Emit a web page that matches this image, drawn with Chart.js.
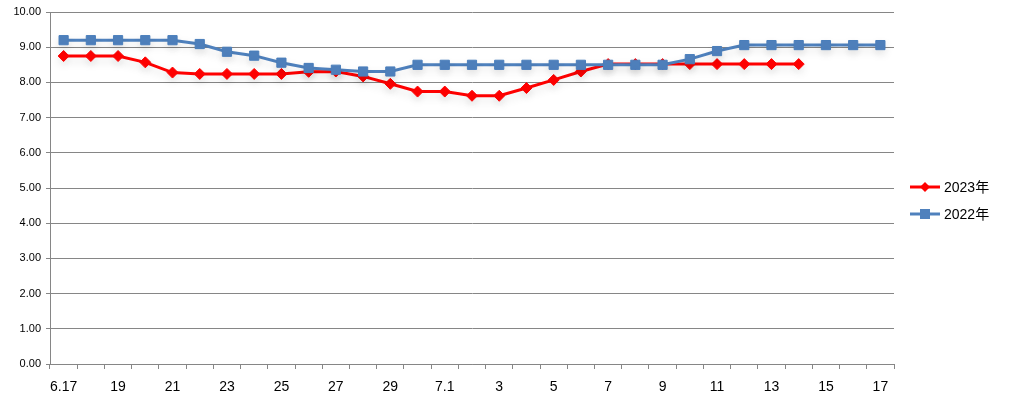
<!DOCTYPE html>
<html>
<head>
<meta charset="utf-8">
<script src="https://cdn.jsdelivr.net/npm/chart.js@4/dist/chart.umd.min.js"></script>
<style>
  html, body { margin: 0; padding: 0; background: #fff; }
  #wrap { width: 1009px; height: 404px; }
</style>
</head>
<body>
<div id="wrap"><canvas id="chart" width="1009" height="404"></canvas></div>
<script>
const dates = [
  '6.17', '18', '19', '20', '21', '22', '23', '24', '25', '26', '27', '28', '29', '30',
  '7.1', '2', '3', '4', '5', '6', '7', '8', '9', '10', '11', '12', '13', '14', '15', '16', '17'
];

const values2023 = [
  8.75, 8.75, 8.75, 8.57, 8.28, 8.24, 8.24, 8.24, 8.24, 8.30, 8.31, 8.17, 7.96, 7.74,
  7.74, 7.62, 7.62, 7.84, 8.07, 8.31, 8.52, 8.52, 8.52, 8.52, 8.52, 8.52, 8.52, 8.52, null, null, null
];

const values2022 = [
  9.20, 9.20, 9.20, 9.20, 9.20, 9.09, 8.87, 8.76, 8.56, 8.41, 8.36, 8.31, 8.31, 8.50,
  8.50, 8.50, 8.50, 8.50, 8.50, 8.50, 8.50, 8.50, 8.50, 8.66, 8.89, 9.06, 9.06, 9.06, 9.06, 9.06, 9.06
];

const seriesNames = ['2023年', '2022年'];

const fontFamily = '"Liberation Sans", "Noto Sans CJK SC", sans-serif';
const axisGray = '#868686';

// soft shadow under the lines, like the office chart
const lineShadow = {
  id: 'lineShadow',
  beforeDatasetsDraw(chart) {
    const ctx = chart.ctx;
    ctx.save();
    ctx.shadowColor = 'rgba(0, 0, 0, 0.12)';
    ctx.shadowBlur = 10;
    ctx.shadowOffsetY = 4;
  },
  afterDatasetsDraw(chart) {
    chart.ctx.restore();
  },
};

// legend with a line sample and marker, drawn to the right of the plot
const lineLegend = {
  id: 'lineLegend',
  afterDraw(chart) {
    const ctx = chart.ctx;
    chart.data.datasets.forEach((ds, i) => {
      const y = 187 + i * 27;
      ctx.save();
      ctx.strokeStyle = ds.borderColor;
      ctx.lineWidth = 3;
      ctx.beginPath();
      ctx.moveTo(910, y);
      ctx.lineTo(940, y);
      ctx.stroke();
      ctx.fillStyle = ds.pointBackgroundColor;
      ctx.beginPath();
      if (ds.pointStyle === 'rectRot') {
        ctx.moveTo(925, y - 5);
        ctx.lineTo(930, y);
        ctx.lineTo(925, y + 5);
        ctx.lineTo(920, y);
        ctx.closePath();
      } else {
        ctx.rect(920, y - 5, 10, 10);
      }
      ctx.fill();
      ctx.fillStyle = '#000';
      ctx.font = '14px ' + fontFamily;
      ctx.textBaseline = 'middle';
      ctx.textAlign = 'left';
      ctx.fillText(ds.label, 944, y + 1);
      ctx.restore();
    });
  },
};

new Chart(document.getElementById('chart'), {
  type: 'line',
  data: {
    labels: dates,
    datasets: [
      {
        label: seriesNames[0],
        data: values2023,
        order: 1,
        borderColor: '#ff0000',
        backgroundColor: '#ff0000',
        pointBackgroundColor: '#ff0000',
        pointBorderColor: '#ff0000',
        borderWidth: 3,
        pointStyle: 'rectRot',
        pointRadius: 5.5,
        pointBorderWidth: 1,
        tension: 0,
        spanGaps: false,
      },
      {
        label: seriesNames[1],
        data: values2022,
        order: 0,
        borderColor: '#4f81bd',
        backgroundColor: '#4f81bd',
        pointBackgroundColor: '#4f81bd',
        pointBorderColor: '#4a7ebb',
        borderWidth: 3,
        pointStyle: 'rect',
        pointRadius: 6.5,
        pointBorderWidth: 1,
        tension: 0,
      },
    ],
  },
  options: {
    responsive: false,
    animation: false,
    devicePixelRatio: 1,
    layout: { padding: { left: 0, right: 115, top: 12, bottom: 0 } },
    plugins: {
      legend: { display: false },
      tooltip: { enabled: false },
    },
    scales: {
      x: {
        type: 'category',
        offset: true,
        grid: {
          display: true,
          drawOnChartArea: false,
          drawTicks: true,
          tickLength: 5,
          color: axisGray,
          offset: true,
        },
        border: { color: axisGray },
        ticks: {
          autoSkip: false,
          maxRotation: 0,
          padding: 10,
          color: '#000',
          font: { family: fontFamily, size: 14 },
          callback: (value, index) => (index % 2 === 0 ? dates[index] : ''),
        },
        afterFit: (scale) => { scale.height = 40; },
      },
      y: {
        min: 0,
        max: 10,
        grid: { color: axisGray, tickLength: 4 },
        border: { color: axisGray },
        ticks: {
          stepSize: 1,
          padding: 5,
          color: '#000',
          font: { family: fontFamily, size: 11 },
          callback: (value) => Number(value).toFixed(2),
        },
        afterFit: (scale) => { scale.width = 50; },
      },
    },
  },
  plugins: [lineShadow, lineLegend],
});
</script>
</body>
</html>
